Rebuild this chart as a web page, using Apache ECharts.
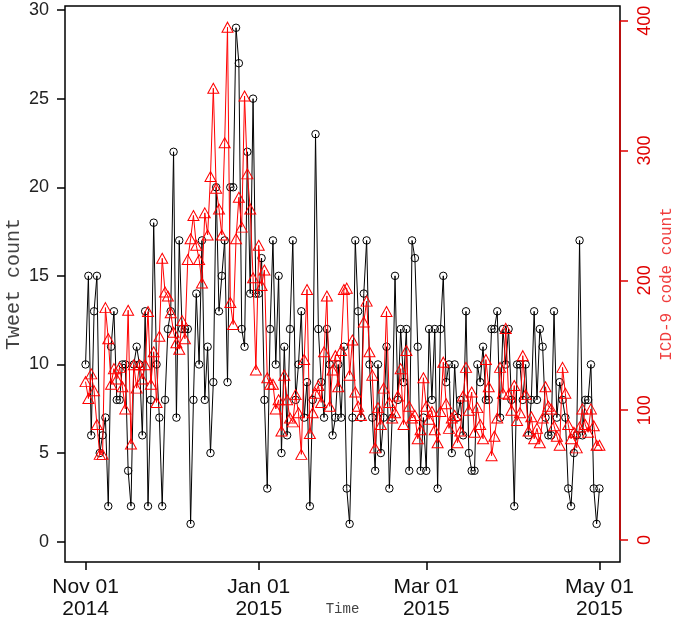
<!DOCTYPE html>
<html>
<head>
<meta charset="utf-8">
<script src="https://cdn.jsdelivr.net/npm/echarts@6/dist/echarts.min.js"></script>
<style>
html,body{margin:0;padding:0;background:#fff;}
#chart{width:675px;height:626px;}
</style>
</head>
<body>
<div id="chart"></div>
<script>
// Day offsets from 2014-11-01 (daily series)
const startDate = '2014-11-01';
const tickDays = [0, 61, 120, 181];
const tickLabels = ['Nov 01\n2014', 'Jan 01\n2015', 'Mar 01\n2015', 'May 01\n2015'];
const leftTicks = [0, 5, 10, 15, 20, 25, 30];
const rightTicks = [0, 100, 200, 300, 400];

// Tweet count (black, left axis)
const tweetCount = [
  10,15,6,13,15,5,6,7,2,11,
  13,8,8,10,10,4,2,10,11,10,
  6,13,2,8,18,10,7,2,8,12,
  13,22,7,17,12,12,12,1,8,14,
  10,17,8,11,5,9,20,13,15,17,
  9,20,20,29,27,12,11,22,14,25,
  14,14,16,8,3,12,17,10,15,5,
  11,6,12,17,8,10,13,7,9,2,
  8,23,12,9,7,12,10,6,7,10,
  7,11,3,1,7,17,13,7,14,17,
  10,7,4,10,5,7,11,3,7,15,
  8,12,9,12,4,17,16,11,4,7,
  4,12,8,12,3,12,15,9,10,5,
  10,7,8,6,13,5,4,4,10,9,
  11,8,8,12,12,13,7,12,10,12,
  8,2,10,10,8,10,6,8,13,8,
  12,11,7,6,6,13,7,9,8,7,
  3,2,5,6,17,6,8,8,10,3,
  1,3
];

// ICD-9 code count (red, right axis)
const icdCount = [
  122,109,128,115,89,66,66,179,155,120,
  132,124,133,118,101,177,74,135,117,135,
  124,135,176,120,145,106,157,217,191,188,
  175,160,152,147,169,155,216,232,250,227,
  216,198,252,235,280,348,271,255,235,306,
  395,183,166,232,264,241,342,282,255,202,
  131,227,196,208,125,120,120,101,108,84,
  127,108,94,91,112,98,66,139,193,82,
  98,113,119,106,145,188,103,131,142,118,
  146,193,194,127,154,114,103,96,168,184,
  145,127,71,102,89,117,176,106,94,98,
  111,132,89,146,103,94,96,78,85,125,
  103,93,99,85,75,99,137,105,86,94,
  96,75,84,111,133,100,114,83,102,89,
  78,139,118,65,80,94,133,113,163,112,
  100,119,92,98,142,112,84,95,78,86,
  75,94,118,103,101,88,80,73,133,113,
  89,78,83,71,87,101,89,83,101,88,
  73,73
];

const xMin = -7.24, xMax = 188.24;
const tickFont = '"Liberation Sans", Arial, sans-serif';
const monoFont = '"Liberation Mono", "DejaVu Sans Mono", monospace';

const chart = echarts.init(document.getElementById('chart'), null, {renderer: 'canvas'});
chart.setOption({
  animation: false,
  backgroundColor: '#fff',
  grid: {left: 65, right: 55, top: 6, bottom: 64, containLabel: false, outerBoundsMode: 'none',
         show: true, borderColor: '#000', borderWidth: 1.5, backgroundColor: 'transparent'},
  xAxis: {
    type: 'value', min: xMin, max: xMax,
    name: 'Time', nameLocation: 'middle', nameGap: 40, nameMoveOverlap: false,
    nameTextStyle: {fontFamily: monoFont, fontSize: 14, color: '#444'},
    axisLine: {show: false, onZero: false},
    splitLine: {show: false},
    axisTick: {show: true, inside: false, customValues: tickDays, length: 8, lineStyle: {color: '#000', width: 1.5}},
    axisLabel: {
      customValues: tickDays, margin: 14, fontSize: 21, lineHeight: 22, color: '#111', fontFamily: tickFont,
      formatter: v => { const i = tickDays.indexOf(Math.round(v)); return i >= 0 ? tickLabels[i] : ''; }
    }
  },
  yAxis: [
    {
      type: 'value', position: 'left', min: -1.15, max: 30.23,
      name: 'Tweet count', nameLocation: 'middle', nameGap: 41, nameRotate: 90, nameMoveOverlap: false,
      nameTextStyle: {fontFamily: monoFont, fontSize: 20, color: '#444'},
      axisLine: {show: false, onZero: false}, splitLine: {show: false},
      axisTick: {show: true, inside: false, customValues: leftTicks, length: 8, lineStyle: {color: '#000', width: 1.5}},
      axisLabel: {customValues: leftTicks, margin: 16, fontSize: 18, color: '#222', fontFamily: tickFont}
    },
    {
      type: 'value', position: 'right', min: -16.9, max: 411.3,
      name: 'ICD-9 code count', nameLocation: 'middle', nameGap: 39, nameRotate: 90, nameMoveOverlap: false,
      nameTextStyle: {fontFamily: monoFont, fontSize: 16, color: '#f03c3c'},
      axisLine: {show: false, onZero: false}, splitLine: {show: false},
      axisTick: {show: true, inside: false, customValues: rightTicks, length: 8, lineStyle: {color: '#e00000', width: 1.5}},
      axisLabel: {customValues: rightTicks, margin: 16, fontSize: 18, color: '#e00000', fontFamily: tickFont, rotate: 90}
    }
  ],
  series: [
    {
      type: 'line', name: 'Tweet count', yAxisIndex: 0,
      data: tweetCount.map((v, i) => [i, v]),
      symbol: 'circle', symbolSize: 7.5, showAllSymbol: true,
      itemStyle: {color: 'rgba(0,0,0,0)', borderColor: '#000', borderWidth: 1},
      lineStyle: {color: '#000', width: 1},
      emphasis: {disabled: true}, z: 2
    },
    {
      type: 'line', name: 'ICD-9 code count', yAxisIndex: 1,
      data: icdCount.map((v, i) => [i, v]),
      symbol: 'triangle', symbolSize: [11, 10], showAllSymbol: true,
      itemStyle: {color: 'rgba(0,0,0,0)', borderColor: '#ff0000', borderWidth: 1},
      lineStyle: {color: '#ff0000', width: 1},
      emphasis: {disabled: true}, z: 3,
      markLine: {
        silent: true, symbol: 'none', label: {show: false},
        lineStyle: {color: '#e00000', width: 1.5, type: 'solid'},
        data: [[{coord: [xMax, rightTicks[0]]}, {coord: [xMax, rightTicks[rightTicks.length - 1]]}]]
      }
    }
  ]
});
</script>
</body>
</html>
